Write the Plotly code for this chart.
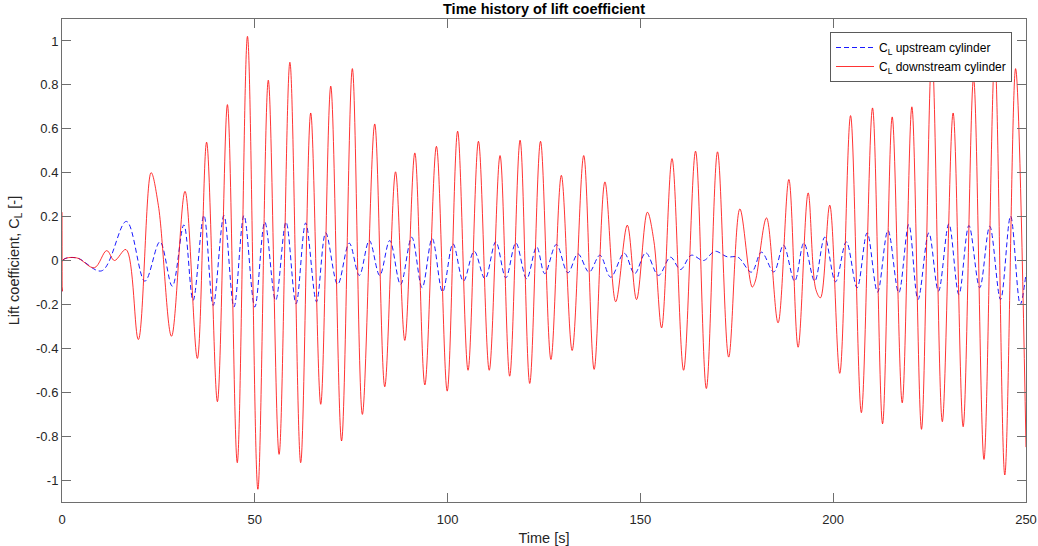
import plotly.graph_objects as go

# Lift coefficient histories, sampled at local extrema (time [s], C_L [-])
t_down = [0, 0.05, 0.1, 3.8, 8.4, 11.6, 13.6, 16.6, 19.8, 23.1, 25.0, 28.4, 31.9, 35.1, 37.5,
          40.3, 42.9, 45.45, 48.1, 50.8, 53.5, 56.3, 59.1, 61.9, 64.5, 67.1, 69.7, 72.5, 75.3,
          77.9, 81.1, 83.7, 86.5, 88.9, 91.5, 94.1, 97.1, 99.9, 102.6, 105.3, 108.0, 110.8,
          113.6, 116.1, 118.8, 121.3, 124.1, 126.8, 129.5, 132.3, 135.3, 138.0, 140.8, 143.6,
          146.6, 149.0, 151.8, 153.5, 155.5, 158.2, 161.2, 164.3, 167.1, 170.0, 172.9, 175.8,
          179.0, 179.8, 182.7, 185.7, 188.5, 190.9, 193.5, 195.5, 196.7, 199.1, 201.7, 204.5,
          207.3, 210.2, 212.8, 215.3, 217.9, 220.4, 222.9, 225.6, 228.3, 231.1, 233.7, 236.4,
          239.1, 241.9, 244.5, 247.3, 250]
cl_down = [0.22, -0.14, 0.0, 0.012, -0.033, 0.045, 0.0, 0.05, -0.36, 0.40, 0.25, -0.345, 0.315,
           -0.446, 0.539, -0.643, 0.71, -0.921, 1.021, -1.042, 0.821, -0.883, 0.903, -0.921,
           0.672, -0.655, 0.794, -0.822, 0.874, -0.701, 0.622, -0.575, 0.404, -0.364, 0.49,
           -0.567, 0.52, -0.595, 0.589, -0.50, 0.543, -0.50, 0.478, -0.527, 0.548, -0.56, 0.543,
           -0.451, 0.388, -0.41, 0.478, -0.496, 0.358, -0.188, 0.161, -0.178, 0.22, 0.088,
           -0.307, 0.464, -0.50, 0.498, -0.583, 0.495, -0.44, 0.235, -0.121, -0.094, 0.194,
           -0.284, 0.369, -0.395, 0.308, -0.132, -0.17, 0.252, -0.514, 0.66, -0.693, 0.695,
           -0.744, 0.654, -0.648, 0.70, -0.769, 0.95, -0.734, 0.672, -0.757, 0.831, -0.906,
           0.93, -0.977, 0.874, -0.85]

t_up = [0, 0.1, 3.8, 10.3, 16.7, 21.5, 25.4, 28.6, 31.6, 34.0, 36.8, 39.2, 42.0, 44.6, 47.2,
        50.0, 52.6, 55.4, 58.1, 60.7, 63.2, 66.0, 68.4, 71.5, 74.5, 77.1, 79.7, 82.4, 85.0,
        87.8, 90.7, 93.4, 96.0, 98.7, 101.4, 104.1, 106.9, 109.7, 112.5, 115.1, 117.7, 120.5,
        123.1, 125.2, 128.2, 131.2, 133.8, 136.7, 139.5, 142.3, 145.8, 148.5, 151.4, 154.7,
        157.8, 160.4, 163.2, 166.4, 169.3, 172.5, 175.3, 178.8, 181.4, 184.6, 187.1, 190.0,
        192.4, 195.2, 197.8, 200.6, 203.4, 206.2, 208.8, 211.5, 214.2, 217.0, 219.6, 222.0,
        224.8, 227.3, 230.0, 232.6, 235.2, 238.0, 240.6, 243.4, 246.0, 248.5, 250]
cl_up = [-0.14, 0.0, 0.012, -0.047, 0.178, -0.094, 0.085, -0.117, 0.162, -0.182, 0.206, -0.205,
         0.205, -0.212, 0.205, -0.212, 0.175, -0.182, 0.175, -0.197, 0.171, -0.188, 0.126,
         -0.109, 0.079, -0.068, 0.091, -0.068, 0.091, -0.109, 0.106, -0.124, 0.10, -0.143,
         0.076, -0.094, 0.042, -0.083, 0.085, -0.079, 0.08, -0.083, 0.062, -0.06, 0.073, -0.056,
         0.03, -0.053, 0.024, -0.076, 0.033, -0.06, 0.035, -0.068, 0.015, -0.041, 0.024, 0.0,
         0.042, 0.017, 0.015, -0.053, 0.038, -0.052, 0.07, -0.094, 0.08, -0.094, 0.106, -0.097,
         0.085, -0.124, 0.126, -0.144, 0.137, -0.147, 0.164, -0.178, 0.126, -0.14, 0.167,
         -0.155, 0.159, -0.124, 0.156, -0.178, 0.202, -0.20, -0.06]

x_ticks = [0, 50, 100, 150, 200, 250]
x_tick_text = ["0", "50", "100", "150", "200", "250"]
y_ticks = [-1, -0.8, -0.6, -0.4, -0.2, 0, 0.2, 0.4, 0.6, 0.8, 1]
y_tick_text = ["-1", "-0.8", "-0.6", "-0.4", "-0.2", "0", "0.2", "0.4", "0.6", "0.8", "1"]

FONT = "Liberation Sans, Arial, Helvetica, sans-serif"
AXIS_COLOR = "#6e6e6e"
TEXT_COLOR = "#262626"

fig = go.Figure()
fig.add_trace(go.Scatter(
    x=t_up, y=cl_up, mode="lines", name="C<sub>L</sub> upstream cylinder",
    line=dict(color="#1a1aff", width=1, dash="5px,3px", shape="spline", smoothing=1.0),
))
fig.add_trace(go.Scatter(
    x=t_down, y=cl_down, mode="lines", name="C<sub>L</sub> downstream cylinder",
    line=dict(color="#ff0000", width=0.8, shape="spline", smoothing=1.0),
))

axis_common = dict(
    showline=True, linecolor=AXIS_COLOR, linewidth=1, mirror="ticks",
    ticks="inside", ticklen=9, tickwidth=1, tickcolor=AXIS_COLOR,
    showgrid=False, zeroline=False, automargin=False,
    tickfont=dict(family=FONT, size=13, color=TEXT_COLOR),
)

fig.update_layout(
    width=1038, height=546,
    margin=dict(l=62, r=12, t=19, b=44),
    paper_bgcolor="white", plot_bgcolor="white",
    title=dict(text="<b>Time history of lift coefficient</b>", x=544 / 1038, xanchor="center",
               y=1 - 9 / 546, yanchor="middle",
               font=dict(family=FONT, size=14.5, color="#000000")),
    xaxis=dict(range=[0, 250], tickvals=x_ticks, ticktext=x_tick_text, ticklabelstandoff=5,
               title=dict(text="Time [s]", font=dict(family=FONT, size=14.5, color=TEXT_COLOR),
                          standoff=9),
               **axis_common),
    yaxis=dict(range=[-1.1, 1.1], tickvals=y_ticks, ticktext=y_tick_text,
               title=dict(text="Lift coefficient, C<sub>L</sub> [-]",
                          font=dict(family=FONT, size=14.5, color=TEXT_COLOR), standoff=12),
               **axis_common),
    legend=dict(x=(1012 - 62) / 964, xanchor="right", y=(502 - 32) / 483, yanchor="top",
                bgcolor="white", bordercolor="#5a5a5a", borderwidth=1,
                font=dict(family=FONT, size=12, color="#000000"),
                itemwidth=38, tracegroupgap=0),
    showlegend=True,
)

fig.write_html("out.html")
